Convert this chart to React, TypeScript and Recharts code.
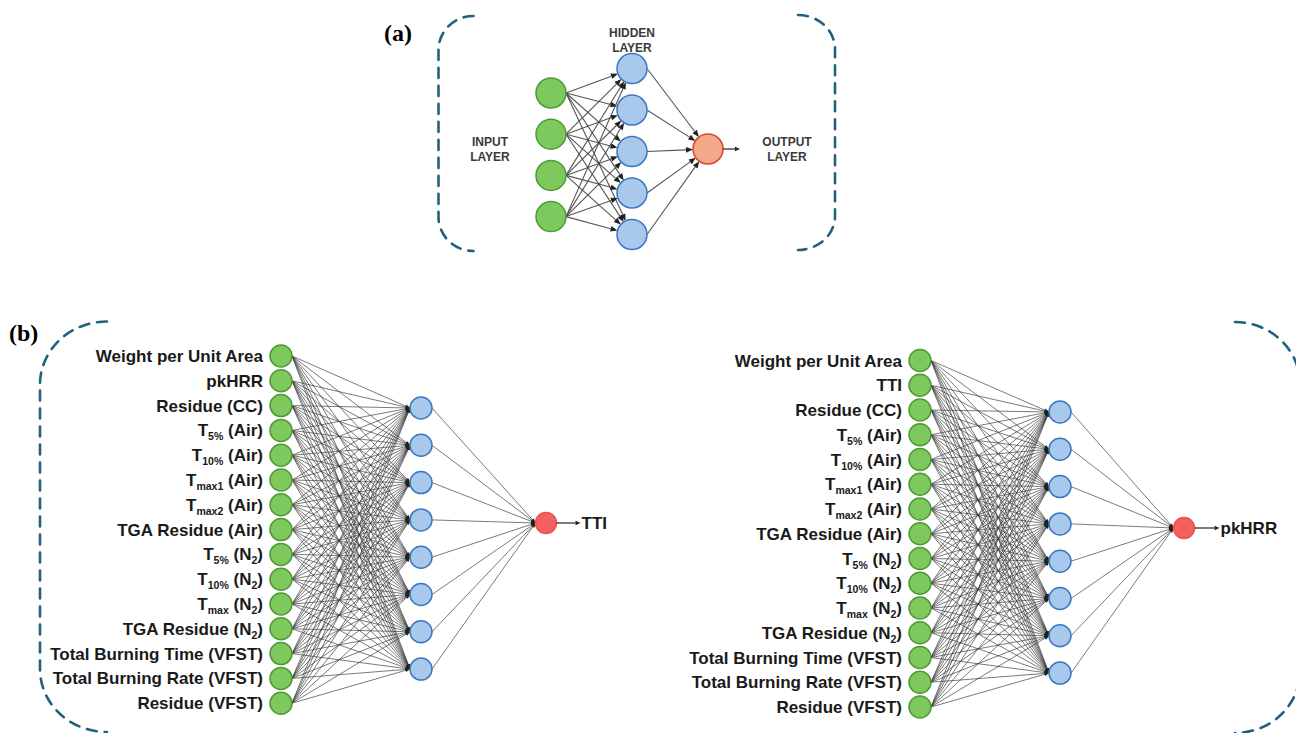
import React from 'react';
import { ComposedChart, XAxis, YAxis, Scatter, ReferenceLine } from 'recharts';

const WIDTH = 1296;
const HEIGHT = 733;

// (a) generic network: nodes per layer and layer captions
const genericLayerSizes = [4, 5, 1];
const genericCaptions = ['INPUT LAYER', 'HIDDEN LAYER', 'OUTPUT LAYER'];

// (b) left: TTI model
const ttiInputs = [
  'Weight per Unit Area',
  'pkHRR',
  'Residue (CC)',
  'T_{5%} (Air)',
  'T_{10%} (Air)',
  'T_{max1} (Air)',
  'T_{max2} (Air)',
  'TGA Residue (Air)',
  'T_{5%} (N_{2})',
  'T_{10%} (N_{2})',
  'T_{max} (N_{2})',
  'TGA Residue (N_{2})',
  'Total Burning Time (VFST)',
  'Total Burning Rate (VFST)',
  'Residue (VFST)',
];
const ttiHiddenSize = 8;
const ttiOutput = 'TTI';

// (b) right: pkHRR model
const hrrInputs = [
  'Weight per Unit Area',
  'TTI',
  'Residue (CC)',
  'T_{5%} (Air)',
  'T_{10%} (Air)',
  'T_{max1} (Air)',
  'T_{max2} (Air)',
  'TGA Residue (Air)',
  'T_{5%} (N_{2})',
  'T_{10%} (N_{2})',
  'T_{max} (N_{2})',
  'TGA Residue (N_{2})',
  'Total Burning Time (VFST)',
  'Total Burning Rate (VFST)',
  'Residue (VFST)',
];
const hrrHiddenSize = 8;
const hrrOutput = 'pkHRR';

const panelTags = ['(a)', '(b)'];

// ---- layout (kept apart from the data) ----
const layoutA = {
  inX: 551, inY0: 93, inStep: 41.2, inR: 15,
  hidX: 632, hidY0: 68.5, hidStep: 41.5, hidR: 15,
  outX: 708, outY: 149, outR: 15, arrow: 17, converge: false,
};
const layoutTTI = {
  inX: 281, inY0: 356, inStep: 24.8, inR: 11,
  hidX: 421, hidY0: 408, hidStep: 37.3, hidR: 11,
  outX: 546, outY: 523, outR: 10.5, arrow: 24, converge: true,
};
const layoutHRR = {
  inX: 920, inY0: 360.5, inStep: 24.75, inR: 11,
  hidX: 1060, hidY0: 412, hidStep: 37.3, hidR: 11,
  outX: 1184, outY: 528, outR: 10.5, arrow: 25, converge: true,
};

const brackets = [
  { x: 438.5, top: 16, bottom: 251, rx: 35, ry: 34, dir: 1 },
  { x: 835, top: 15, bottom: 250, rx: 37, ry: 34, dir: -1 },
  { x: 40, top: 321.5, bottom: 732, rx: 67, ry: 63, dir: 1 },
  { x: 1300, top: 322, bottom: 733, rx: 65, ry: 62, dir: -1 },
];

const DASH = '#23607e';
const FONT = '"Liberation Sans", Arial, sans-serif';

type Pt = { x: number; y: number };

function buildNet(inputs: string[], hiddenSize: number, output: string, L: any, small: boolean) {
  const nodes: any[] = [];
  const edges: { from: Pt; to: Pt; small: boolean }[] = [];
  const ins = inputs.map((label, i) => ({ x: L.inX, y: L.inY0 + i * L.inStep, r: L.inR, kind: 'in', label, small }));
  const hid = Array.from({ length: hiddenSize }, (_, j) => ({ x: L.hidX, y: L.hidY0 + j * L.hidStep, r: L.hidR, kind: 'hid', small }));
  const out = { x: L.outX, y: L.outY, r: L.outR, kind: 'out', label: output, arrow: L.arrow, small };

  const endOf = (from: Pt, n: any) => {
    if (L.converge) return { x: n.x - n.r, y: n.y };
    const dx = n.x - from.x;
    const dy = n.y - from.y;
    const len = Math.hypot(dx, dy);
    return { x: n.x - (dx / len) * n.r, y: n.y - (dy / len) * n.r };
  };

  ins.forEach((a) => {
    hid.forEach((h) => {
      const from = { x: a.x + a.r, y: a.y };
      edges.push({ from, to: endOf(from, h), small });
    });
  });
  hid.forEach((h) => {
    const from = { x: h.x + h.r, y: h.y };
    edges.push({ from, to: endOf(from, out), small });
  });
  nodes.push(...ins, ...hid, out);
  return { nodes, edges };
}

const netA = buildNet(Array(genericLayerSizes[0]).fill(''), genericLayerSizes[1], '', layoutA, false);
const netTTI = buildNet(ttiInputs, ttiHiddenSize, ttiOutput, layoutTTI, true);
const netHRR = buildNet(hrrInputs, hrrHiddenSize, hrrOutput, layoutHRR, true);

const allNodes = [...netA.nodes, ...netTTI.nodes, ...netHRR.nodes];
const allEdges = [...netA.edges, ...netTTI.edges, ...netHRR.edges];

const captions = [
  { x: layoutA.inX - 61, y: layoutA.outY, lines: genericCaptions[0].split(' '), kind: 'layer' },
  { x: layoutA.hidX, y: 39.5, lines: genericCaptions[1].split(' '), kind: 'layer' },
  { x: layoutA.outX + 79, y: layoutA.outY, lines: genericCaptions[2].split(' '), kind: 'layer' },
  { x: 384, y: 33, lines: [panelTags[0]], kind: 'tag' },
  { x: 9, y: 333, lines: [panelTags[1]], kind: 'tag' },
];

const Arrow = (p: any) => {
  const { x1, y1, x2, y2, small } = p;
  const dx = x2 - x1;
  const dy = y2 - y1;
  const len = Math.hypot(dx, dy) || 1;
  const ux = dx / len;
  const uy = dy / len;
  const head = small ? 4.5 : 7;
  const hw = small ? 1.8 : 2.8;
  const bx = x2 - ux * head;
  const by = y2 - uy * head;
  return (
    <g>
      <line
        x1={x1}
        y1={y1}
        x2={bx}
        y2={by}
        stroke={small ? '#3a3a3a' : '#444'}
        strokeWidth={small ? 0.85 : 1.1}
        strokeOpacity={small ? 0.8 : 0.9}
      />
      <polygon
        points={`${x2},${y2} ${bx - uy * hw},${by + ux * hw} ${bx + uy * hw},${by - ux * hw}`}
        fill="#222"
      />
    </g>
  );
};

const Bracket = (p: any) => {
  const { x1, y1, y2, rx, ry, dir } = p;
  const sweep = dir > 0 ? 0 : 1;
  const d = `M ${x1 + dir * rx} ${y1} A ${rx} ${ry} 0 0 ${sweep} ${x1} ${y1 + ry} L ${x1} ${y2 - ry} A ${rx} ${ry} 0 0 ${sweep} ${x1 + dir * rx} ${y2}`;
  return <path d={d} fill="none" stroke={DASH} strokeWidth={2.6} strokeDasharray="10 8" strokeLinecap="round" />;
};

const RichLabel = ({ x, y, text, size }: { x: number; y: number; text: string; size: number }) => {
  const parts = text.split(/(_\{[^}]*\})/).filter(Boolean);
  let prevSub = false;
  return (
    <text x={x} y={y} textAnchor="end" fontFamily={FONT} fontWeight="bold" fontSize={size} fill="#1a1a1a">
      {parts.map((part, i) => {
        const sub = part.startsWith('_{');
        const dy = sub ? 4 : prevSub ? -4 : 0;
        prevSub = sub;
        return (
          <tspan key={i} dy={dy} fontSize={sub ? size * 0.62 : size}>
            {sub ? part.slice(2, -1) : part}
          </tspan>
        );
      })}
    </text>
  );
};

const renderNode = (props: any) => {
  const { cx, cy, payload } = props;
  const { r, kind, label, small, arrow } = payload;
  let fill = '#7dc95e';
  let stroke = '#4e9a36';
  if (kind === 'hid') {
    fill = '#a9c9ec';
    stroke = '#3b78c2';
  }
  if (kind === 'out') {
    fill = small ? '#f2605f' : '#f2a98a';
    stroke = small ? '#ec5252' : '#d6452f';
  }
  const ax = cx + r + arrow;
  return (
    <g>
      <circle cx={cx} cy={cy} r={r} fill={fill} stroke={stroke} strokeWidth={1.5} />
      {kind === 'in' && label ? <RichLabel x={cx - r - 7} y={cy + 6} text={label} size={17} /> : null}
      {kind === 'out' ? (
        <g>
          <line x1={cx + r} y1={cy} x2={ax - 5} y2={cy} stroke="#222" strokeWidth={1.2} />
          <polygon points={`${ax},${cy} ${ax - 5},${cy - 2.3} ${ax - 5},${cy + 2.3}`} fill="#222" />
          {label ? (
            <text x={ax + 1} y={cy + 6} fontFamily={FONT} fontWeight="bold" fontSize={17} fill="#1a1a1a">
              {label}
            </text>
          ) : null}
        </g>
      ) : null}
    </g>
  );
};

const renderCaption = (props: any) => {
  const { cx, cy, payload } = props;
  if (payload.kind === 'tag') {
    return (
      <text x={cx} y={cy + 8} fontFamily='"Liberation Serif", "Times New Roman", serif' fontWeight="bold" fontSize={24} fill="#000">
        {payload.lines[0]}
      </text>
    );
  }
  const gap = 15;
  const n = payload.lines.length;
  return (
    <text textAnchor="middle" fontFamily={FONT} fontWeight="bold" fontSize={12} fill="#3a3a3a">
      {payload.lines.map((ln: string, i: number) => (
        <tspan key={i} x={cx} y={cy + 4.5 + (i - (n - 1) / 2) * gap}>
          {ln}
        </tspan>
      ))}
    </text>
  );
};

export default function App() {
  return (
    <div style={{ position: 'absolute', left: 0, top: 0, width: WIDTH, height: HEIGHT, background: '#fff' }}>
      <ComposedChart width={WIDTH} height={HEIGHT} margin={{ top: 0, right: 0, bottom: 0, left: 0 }}>
        <XAxis type="number" dataKey="x" domain={[0, WIDTH]} hide allowDataOverflow />
        <YAxis type="number" dataKey="y" domain={[0, HEIGHT]} reversed hide allowDataOverflow />
        {brackets.map((b, i) => (
          <ReferenceLine
            key={`br-${i}`}
            segment={[{ x: b.x, y: b.top }, { x: b.x, y: b.bottom }]}
            ifOverflow="visible"
            zIndex={100}
            shape={(p: any) => <Bracket {...p} rx={b.rx} ry={b.ry} dir={b.dir} />}
          />
        ))}
        {allEdges.map((e, i) => (
          <ReferenceLine
            key={`e-${i}`}
            segment={[e.from, e.to]}
            ifOverflow="visible"
            zIndex={100}
            shape={(p: any) => <Arrow {...p} small={e.small} />}
          />
        ))}
        <Scatter data={allNodes} dataKey="y" isAnimationActive={false} zIndex={1000} shape={renderNode} />
        <Scatter data={captions} dataKey="y" isAnimationActive={false} zIndex={1000} shape={renderCaption} />
      </ComposedChart>
    </div>
  );
}
